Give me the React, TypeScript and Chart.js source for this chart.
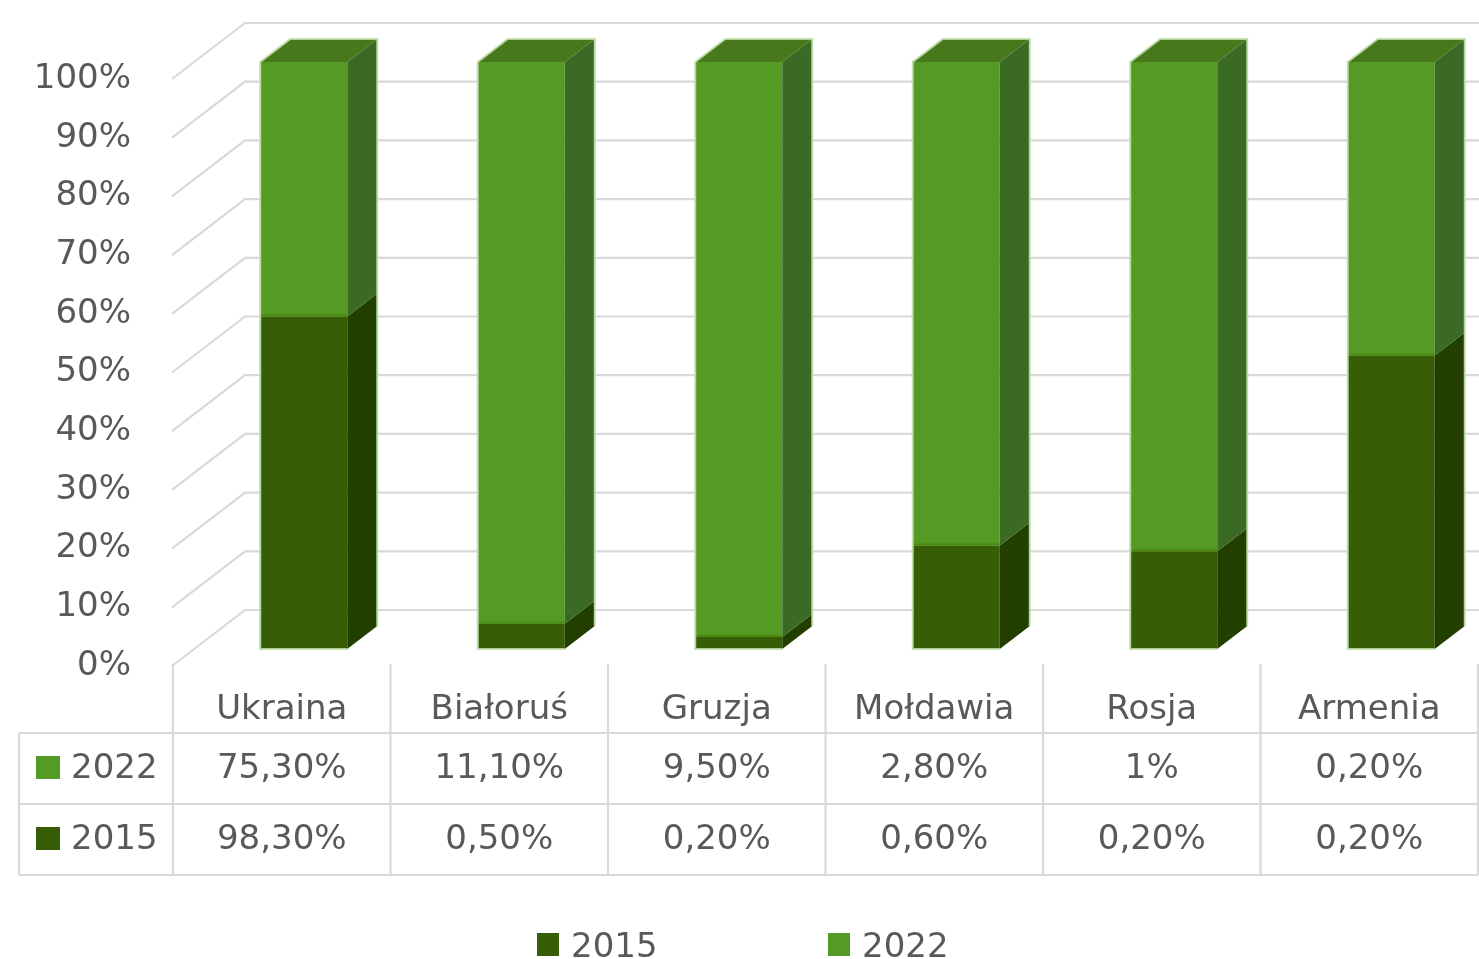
import React, { useEffect, useRef } from "react";
import { Chart, registerables } from "chart.js";

Chart.register(...registerables);

const categories = ["Ukraina", "Białoruś", "Gruzja", "Mołdawia", "Rosja", "Armenia"];
const values2015 = [98.3, 0.5, 0.2, 0.6, 0.2, 0.2];
const values2022 = [75.3, 11.1, 9.5, 2.8, 1, 0.2];
const seriesLabels = ["2015", "2022"];
const yTickValues = [0, 10, 20, 30, 40, 50, 60, 70, 80, 90, 100];

const FRONT_COLORS = ["#375e06", "#549a25"];
const SIDE_COLORS = ["#223f00", "#3b6a24"];
const TOP_COLOR = "#47781c";
const TEXT = "#595959";
const GRID = "#d9d9d9";
const FONT = '"DejaVu Sans", sans-serif';

// 3D geometry (pixels)
const DX = 30;
const DY = 23;
const FRONT_DROP = 17;
const FRONT_SHIFT = 22;
const BACK_RISE = 39;
const BACK_SHIFT = 51;

const CANVAS_W = 1520;
const CANVAS_H = 959;

const fmt = (v: number) =>
  Number.isInteger(v) ? `${v}%` : `${v.toFixed(2).replace(".", ",")}%`;

const rawSeries = [values2015, values2022];
const shares = rawSeries.map((s) =>
  s.map((v, i) => (v / (values2015[i] + values2022[i])) * 100)
);

const threeD = {
  id: "threeD",
  beforeDatasetsDraw(chart: any) {
    const ctx = chart.ctx;
    const y = chart.scales.y;
    const area = chart.chartArea;
    ctx.save();
    ctx.strokeStyle = GRID;
    ctx.lineWidth = 2.2;
    y.ticks.forEach((t: any) => {
      const py = y.getPixelForValue(t.value);
      ctx.beginPath();
      ctx.moveTo(area.left - FRONT_SHIFT - 1, py + FRONT_DROP);
      ctx.lineTo(area.left + BACK_SHIFT - 1, py - BACK_RISE);
      ctx.lineTo(chart.width, py - BACK_RISE);
      ctx.stroke();
    });
    ctx.restore();
  },
  afterDatasetsDraw(chart: any) {
    const ctx = chart.ctx;
    const n = chart.data.labels.length;
    const nd = chart.data.datasets.length;
    ctx.save();
    for (let i = 0; i < n; i++) {
      let left = 0, right = 0, top = Infinity, bottom = -Infinity;
      for (let d = 0; d < nd; d++) {
        const bar = chart.getDatasetMeta(d).data[i];
        const l = bar.x - bar.width / 2;
        const r = bar.x + bar.width / 2;
        left = l; right = r;
        const yt = Math.min(bar.y, bar.base);
        const yb = Math.max(bar.y, bar.base);
        top = Math.min(top, yt);
        bottom = Math.max(bottom, yb);
        ctx.fillStyle = SIDE_COLORS[d];
        ctx.beginPath();
        ctx.moveTo(r, yt);
        ctx.lineTo(r + DX, yt - DY);
        ctx.lineTo(r + DX, yb - DY);
        ctx.lineTo(r, yb);
        ctx.closePath();
        ctx.fill();
        if (d > 0) {
          ctx.strokeStyle = "#4a8a10";
          ctx.lineWidth = 2;
          ctx.beginPath();
          ctx.moveTo(l, yb - 1);
          ctx.lineTo(r, yb - 1);
          ctx.stroke();
        }
      }
      ctx.fillStyle = TOP_COLOR;
      ctx.beginPath();
      ctx.moveTo(left, top);
      ctx.lineTo(left + DX, top - DY);
      ctx.lineTo(right + DX, top - DY);
      ctx.lineTo(right, top);
      ctx.closePath();
      ctx.fill();
      ctx.strokeStyle = "rgba(190,222,170,0.9)";
      ctx.lineWidth = 2;
      ctx.beginPath();
      ctx.moveTo(right, bottom);
      ctx.lineTo(left, bottom);
      ctx.lineTo(left, top);
      ctx.lineTo(left + DX, top - DY);
      ctx.lineTo(right + DX, top - DY);
      ctx.lineTo(right + DX, bottom - DY);
      ctx.stroke();
    }
    ctx.restore();
  },
  afterDraw(chart: any) {
    const ctx = chart.ctx;
    const x = chart.scales.x;
    const n = chart.data.labels.length;
    const colW = x.getPixelForValue(1) - x.getPixelForValue(0);
    const cx = (i: number) => x.getPixelForValue(i) - FRONT_SHIFT;
    const tableLeft = cx(0) - colW / 2;
    const tableRight = cx(n - 1) + colW / 2;
    const headTop = 664;
    const rows = [733, 804, 875];
    const outerLeft = 19;

    ctx.save();
    ctx.strokeStyle = GRID;
    ctx.lineWidth = 2.2;
    rows.forEach((ry) => {
      ctx.beginPath();
      ctx.moveTo(outerLeft, ry);
      ctx.lineTo(tableRight, ry);
      ctx.stroke();
    });
    ctx.beginPath();
    ctx.moveTo(outerLeft, rows[0]);
    ctx.lineTo(outerLeft, rows[2]);
    ctx.stroke();
    for (let k = 0; k <= n; k++) {
      const vx = tableLeft + k * colW;
      ctx.beginPath();
      ctx.moveTo(vx, headTop);
      ctx.lineTo(vx, rows[2]);
      ctx.stroke();
    }

    ctx.font = `34px ${FONT}`;
    ctx.fillStyle = TEXT;
    ctx.textAlign = "center";
    ctx.textBaseline = "alphabetic";
    chart.data.labels.forEach((lab: string, i: number) => {
      ctx.fillText(lab, cx(i), 719);
    });

    const order = [1, 0];
    const baselines = [778, 849];
    const sqTops = [756, 827];
    order.forEach((d, r) => {
      const vals = rawSeries[d];
      ctx.textAlign = "center";
      ctx.fillStyle = TEXT;
      vals.forEach((v, i) => ctx.fillText(fmt(v), cx(i), baselines[r]));
      ctx.fillStyle = FRONT_COLORS[d];
      ctx.fillRect(36, sqTops[r], 24, 23);
      ctx.fillStyle = TEXT;
      ctx.textAlign = "left";
      ctx.fillText(chart.data.datasets[d].label, 71, baselines[r]);
    });

    const legendX = [537, 828];
    chart.data.datasets.forEach((ds: any, d: number) => {
      ctx.fillStyle = FRONT_COLORS[d];
      ctx.fillRect(legendX[d], 933, 22, 23);
      ctx.fillStyle = TEXT;
      ctx.textAlign = "left";
      ctx.fillText(ds.label, legendX[d] + 34, 957);
    });
    ctx.restore();
  },
};

export default function App() {
  const ref = useRef<HTMLCanvasElement | null>(null);
  useEffect(() => {
    if (!ref.current) return;
    const chart = new Chart(ref.current, {
      type: "bar",
      data: {
        labels: categories,
        datasets: seriesLabels.map((lab, d) => ({
          label: lab,
          data: shares[d],
          backgroundColor: FRONT_COLORS[d],
          borderWidth: 0,
          barPercentage: 0.4,
          categoryPercentage: 1,
        })),
      },
      options: {
        responsive: false,
        animation: false,
        layout: { padding: { top: 62, bottom: CANVAS_H - 649, left: 0, right: 20 } },
        plugins: {
          legend: { display: false },
          title: { display: false },
          tooltip: { enabled: false },
        },
        scales: {
          x: { stacked: true, display: false },
          y: {
            stacked: true,
            min: 0,
            max: 100,
            afterFit: (s: any) => {
              s.width = 195;
              s.paddingTop = 0;
              s.paddingBottom = 0;
            },
            afterBuildTicks: (s: any) => {
              s.ticks = yTickValues.map((v) => ({ value: v }));
            },
            grid: { display: false, drawTicks: false },
            border: { display: false },
            ticks: {
              padding: 64,
              labelOffset: FRONT_DROP,
              color: TEXT,
              font: { family: FONT, size: 34 },
              callback: (v: any) => `${v}%`,
            },
          },
        },
      },
      plugins: [threeD],
    });
    return () => chart.destroy();
  }, []);
  return (
    <div
      style={{
        position: "absolute",
        left: 0,
        top: 0,
        width: 1479,
        height: 959,
        overflow: "hidden",
        background: "#fff",
      }}
    >
      <canvas
        ref={ref}
        width={CANVAS_W}
        height={CANVAS_H}
        style={{ width: CANVAS_W, height: CANVAS_H, display: "block" }}
      />
    </div>
  );
}
